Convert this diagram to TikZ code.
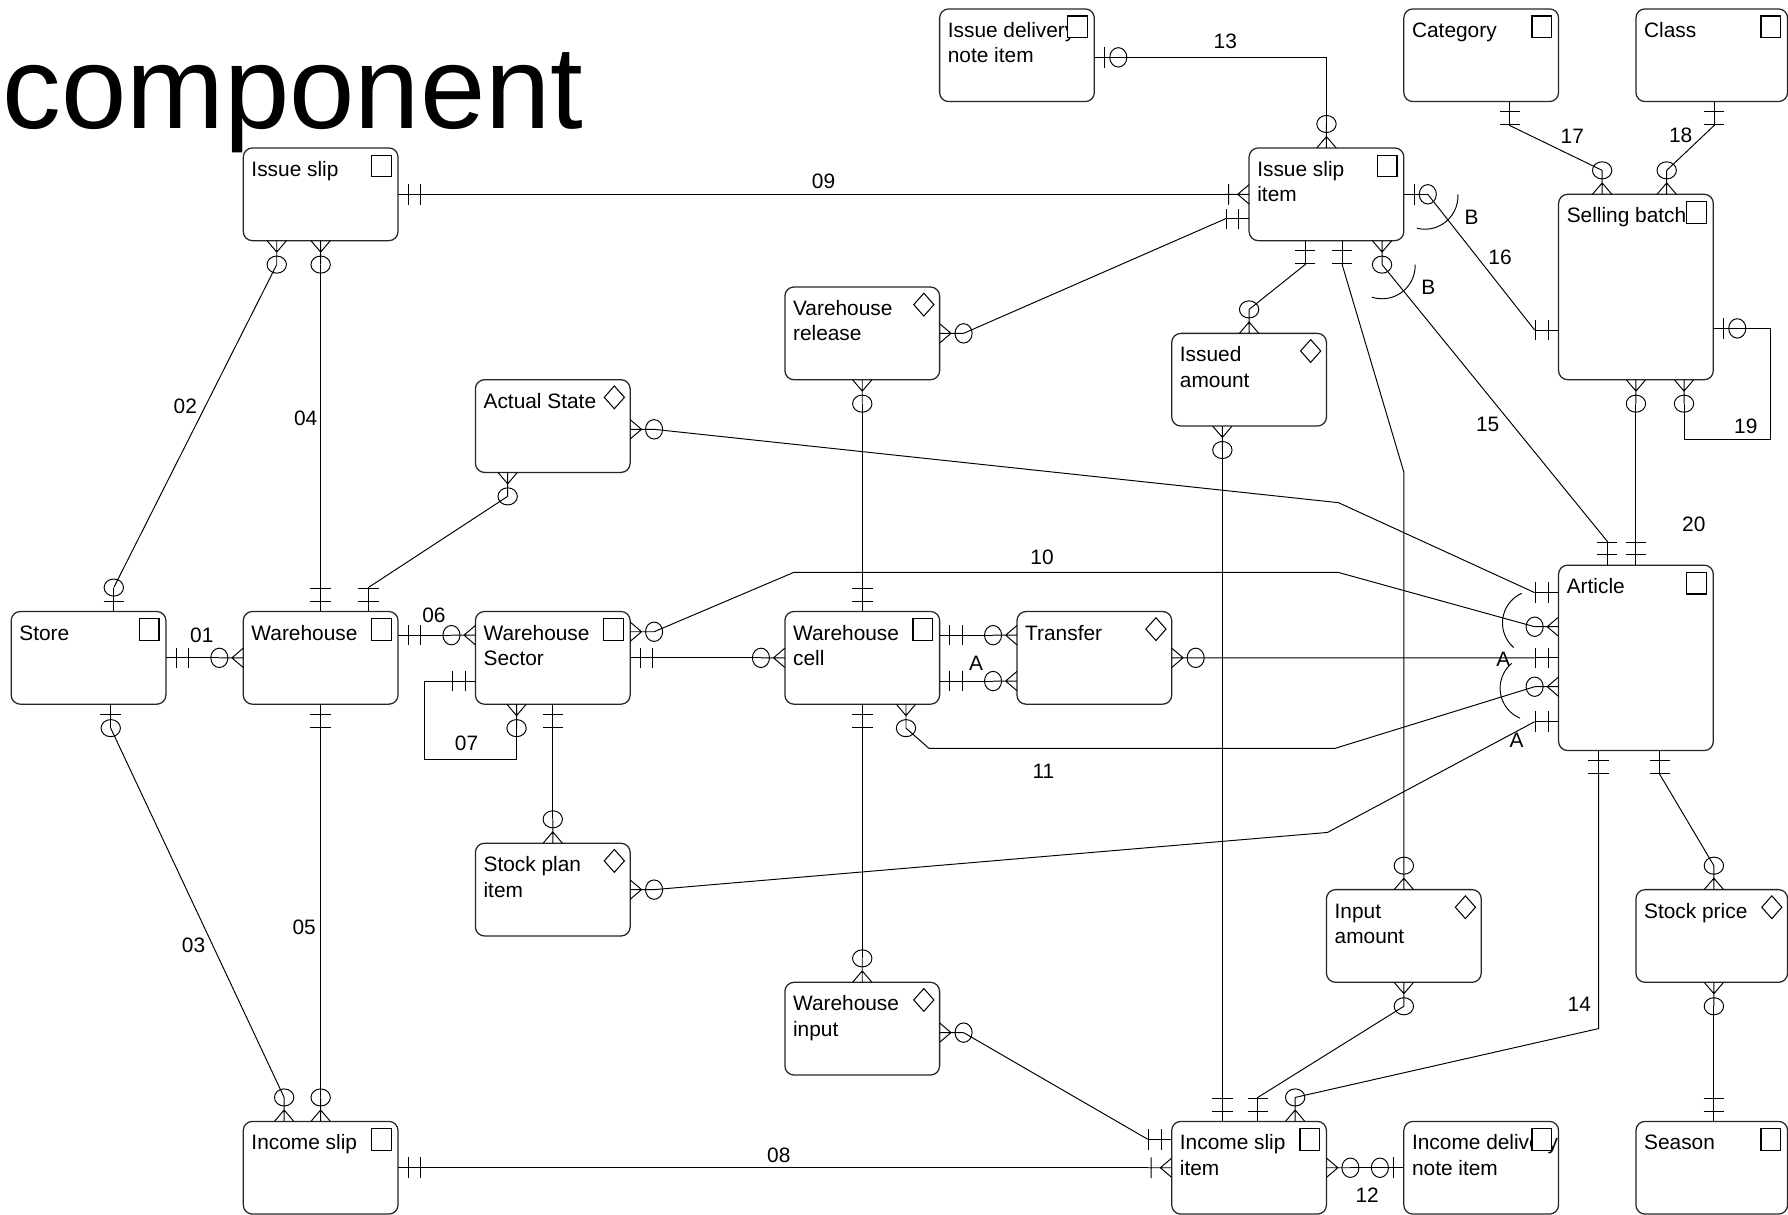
\documentclass[tikz,border=0pt]{standalone}
\usepackage{fontspec}
\setmainfont{Liberation Sans}
\usetikzlibrary{calc}

\tikzset{
  ebox/.style={draw=black!85, line width=1.1pt, rounded corners=8pt, minimum width=135.7pt,
    minimum height=81.3pt, inner sep=0pt, outer sep=0pt, anchor=north west},
  tallbox/.style={ebox, minimum height=162.6pt},
  edgebox/.style={ebox, minimum width=133pt},
  etxt/.style={anchor=base west, inner sep=0pt, font=\fontsize{18.3}{22}\selectfont},
  num/.style={inner sep=0pt, font=\fontsize{18.3}{22}\selectfont},
  conn/.style={line width=0.85pt},
  pics/sqicon/.style={code={\draw[line width=1.1pt, fill=white] (-23.3,6.3) rectangle (-6,25.3);}},
  pics/dmicon/.style={code={\draw[line width=0.9pt, fill=white]
    (-13.85,5.45) -- (-5,15.45) -- (-13.85,25.45) -- (-22.7,15.45) -- cycle;}},
  pics/erone/.style={code={\draw[conn] (0,0)--(21,0) (9,-9)--(9,9) (20,-9)--(20,9);}},
  pics/erzone/.style={code={\draw[conn] (0,0)--(21,0) (9,-9)--(9,9);
    \draw[conn] (21,0) ellipse[x radius=7.5, y radius=8.5];}},
  pics/erzmany/.style={code={\draw[conn] (0,0)--(21,0) (0,-8.5)--(10,0)--(0,8.5);
    \draw[conn] (21,0) ellipse[x radius=7.5, y radius=8.5];}},
  pics/eromany/.style={code={\draw[conn] (0,0)--(21,0) (0,-8.5)--(10,0)--(0,8.5) (18,-9)--(18,9);}},
}

% relationship end: #1 kind, #2 point on the box edge, #3 outward angle, #4 name of the free end
\newcommand{\erend}[4]{\begin{scope}[shift={(#2)}, rotate=#3]\pic[transform shape]{#1};\coordinate (#4) at (21,0);\end{scope}}
% entity captions
\newcommand{\capA}[2]{\node[etxt] (#1-a) at ($(#1.north west)+(7,25)$) {#2};}
\newcommand{\capB}[3]{\node[etxt] (#1-a) at ($(#1.north west)+(7,25)$) {#2};
  \node[etxt] (#1-b) at ($(#1.north west)+(7,47.3)$) {#3};}

\begin{document}
\begin{tikzpicture}[x=1pt, y=-1pt]
\useasboundingbox (0,0) rectangle (1568,1065.5);
\fill[white] (0,0) rectangle (1568,1065.5);

\node[anchor=base west, inner sep=0pt, font=\fontsize{103}{103}\selectfont] (title) at (2,112.5) {component};

% entities
\node[ebox] (idn) at (824.0,7.8) {};
\node[ebox] (category) at (1231.1,7.8) {};
\node[edgebox] (class) at (1434.65,7.8) {};
\node[ebox] (issueslip) at (213.35,129.75) {};
\node[ebox] (isi) at (1095.4,129.75) {};
\node[tallbox] (selling) at (1366.8,170.4) {};
\node[ebox] (vrelease) at (688.3,251.7) {};
\node[ebox] (issued) at (1027.55,292.35) {};
\node[ebox] (actual) at (416.9,333.0) {};
\node[tallbox] (article) at (1366.8,495.6) {};
\node[ebox] (store) at (9.8,536.25) {};
\node[ebox] (warehouse) at (213.35,536.25) {};
\node[ebox] (sector) at (416.9,536.25) {};
\node[ebox] (cell) at (688.3,536.25) {};
\node[ebox] (transfer) at (891.85,536.25) {};
\node[ebox] (stockplan) at (416.9,739.5) {};
\node[ebox] (inputamt) at (1163.25,780.15) {};
\node[edgebox] (stockprice) at (1434.65,780.15) {};
\node[ebox] (whinput) at (688.3,861.45) {};
\node[ebox] (incomeslip) at (213.35,983.4) {};
\node[ebox] (isli) at (1027.55,983.4) {};
\node[ebox] (indn) at (1231.1,983.4) {};
\node[edgebox] (season) at (1434.65,983.4) {};

% captions
\capB{idn}{Issue delivery}{note item}
\capA{category}{Category}
\capA{class}{Class}
\capA{issueslip}{Issue slip}
\capB{isi}{Issue slip}{item}
\capA{selling}{Selling batch}
\capB{vrelease}{Varehouse}{release}
\capB{issued}{Issued}{amount}
\capA{actual}{Actual State}
\capA{article}{Article}
\capA{store}{Store}
\capA{warehouse}{Warehouse}
\capB{sector}{Warehouse}{Sector}
\capB{cell}{Warehouse}{cell}
\capA{transfer}{Transfer}
\capB{stockplan}{Stock plan}{item}
\capB{inputamt}{Input}{amount}
\capA{stockprice}{Stock price}
\capB{whinput}{Warehouse}{input}
\capA{incomeslip}{Income slip}
\capB{isli}{Income slip}{item}
\capB{indn}{Income delivery}{note item}
\capA{season}{Season}

% kind markers
\foreach \b in {idn,category,class,issueslip,isi,selling,article,store,warehouse,sector,cell,incomeslip,isli,indn,season}
  {\pic at (\b.north east) {sqicon};}
\foreach \b in {vrelease,issued,actual,transfer,stockplan,inputamt,stockprice,whinput}
  {\pic at (\b.north east) {dmicon};}

% relationship ends
\erend{erone}{store.east}{0}{e1}
\erend{erzmany}{warehouse.west}{180}{e2}
\erend{erzmany}{$(issueslip.south west)+(29.35,0)$}{-90}{e3}
\erend{erzone}{$(store.north west)+(90,0)$}{90}{e4}
\erend{erzone}{$(store.south west)+(87.3,0)$}{-90}{e5}
\erend{erzmany}{$(incomeslip.north west)+(35.85,0)$}{90}{e6}
\erend{erzmany}{issueslip.south}{-90}{e7}
\erend{erone}{warehouse.north}{90}{e8}
\erend{erone}{warehouse.south}{-90}{e9}
\erend{erzmany}{incomeslip.north}{90}{e10}
\erend{erone}{$(warehouse.north east)+(0,20.75)$}{0}{e11}
\erend{erzmany}{$(sector.north west)+(0,20.75)$}{180}{e12}
\erend{erone}{$(sector.north west)+(0,61.05)$}{180}{e13}
\erend{erzmany}{$(sector.south west)+(36.1,0)$}{-90}{e14}
\erend{erone}{incomeslip.east}{0}{e15}
\erend{eromany}{isli.west}{180}{e16}
\erend{erone}{issueslip.east}{0}{e17}
\erend{eromany}{isi.west}{180}{e18}
\erend{erone}{$(isi.north west)+(0,62.25)$}{180}{e19}
\erend{erzmany}{vrelease.east}{0}{e20}
\erend{erzmany}{$(sector.north east)+(0,17.75)$}{0}{e21}
\erend{erzmany}{$(article.north west)+(0,54)$}{180}{e22}
\erend{erzmany}{$(cell.south west)+(106.2,0)$}{-90}{e23}
\erend{erzmany}{$(article.north west)+(0,106.6)$}{180}{e24}
\erend{erone}{sector.east}{0}{e25}
\erend{erzmany}{cell.west}{180}{e26}
\erend{erone}{$(cell.north east)+(0,20.75)$}{0}{e27}
\erend{erzmany}{$(transfer.north west)+(0,20.75)$}{180}{e28}
\erend{erone}{$(cell.north east)+(0,61)$}{0}{e29}
\erend{erzmany}{$(transfer.north west)+(0,61)$}{180}{e30}
\erend{erzmany}{transfer.east}{0}{e31}
\erend{erone}{article.west}{180}{e32}
\erend{erone}{$(article.north west)+(0,24.1)$}{180}{e33}
\erend{erzmany}{$(actual.north east)+(0,43.5)$}{0}{e34}
\erend{erone}{$(article.north west)+(0,137.3)$}{180}{e35}
\erend{erzmany}{stockplan.east}{0}{e36}
\erend{erzone}{isi.east}{0}{e37}
\erend{erone}{$(selling.north west)+(0,119)$}{180}{e38}
\erend{erzmany}{$(isi.south west)+(116.6,0)$}{-90}{e39}
\erend{erone}{$(article.north west)+(42.6,0)$}{90}{e40}
\erend{erone}{$(isi.south west)+(49.1,0)$}{-90}{e41}
\erend{erzmany}{issued.north}{90}{e42}
\erend{erone}{$(isi.south west)+(81.6,0)$}{-90}{e43}
\erend{erzmany}{inputamt.north}{90}{e44}
\erend{erzone}{$(idn.north east)+(0,42.5)$}{0}{e45}
\erend{erzmany}{isi.north}{90}{e46}
\erend{erone}{$(category.south west)+(92.9,0)$}{-90}{e47}
\erend{erzmany}{$(selling.north west)+(38.2,0)$}{90}{e48}
\erend{erone}{$(class.south west)+(68.5,0)$}{-90}{e49}
\erend{erzmany}{$(selling.north west)+(94.8,0)$}{90}{e50}
\erend{erzone}{$(selling.north east)+(0,117.6)$}{0}{e51}
\erend{erzmany}{$(selling.south west)+(110,0)$}{-90}{e52}
\erend{erzmany}{selling.south}{-90}{e53}
\erend{erone}{article.north}{90}{e54}
\erend{erone}{$(article.south west)+(35.2,0)$}{-90}{e55}
\erend{erzmany}{$(isli.north west)+(108.25,0)$}{90}{e56}
\erend{erone}{$(article.south west)+(88.8,0)$}{-90}{e57}
\erend{erzmany}{$(stockprice.north west)+(68.35,0)$}{90}{e58}
\erend{erzmany}{$(stockprice.south west)+(68.35,0)$}{-90}{e59}
\erend{erone}{$(season.north west)+(68.35,0)$}{90}{e60}
\erend{erzmany}{inputamt.south}{-90}{e61}
\erend{erone}{$(isli.north west)+(75.45,0)$}{90}{e62}
\erend{erzmany}{$(issued.south west)+(44.4,0)$}{-90}{e63}
\erend{erone}{$(isli.north west)+(44.4,0)$}{90}{e64}
\erend{erzmany}{$(whinput.north east)+(0,44.1)$}{0}{e65}
\erend{erone}{$(isli.north west)+(0,15.7)$}{180}{e66}
\erend{erzmany}{isli.east}{0}{e67}
\erend{erzone}{indn.west}{180}{e68}
\erend{erzmany}{vrelease.south}{-90}{e69}
\erend{erone}{cell.north}{90}{e70}
\erend{erone}{cell.south}{-90}{e71}
\erend{erzmany}{whinput.north}{90}{e72}
\erend{erone}{sector.south}{-90}{e73}
\erend{erzmany}{stockplan.north}{90}{e74}
\erend{erone}{$(warehouse.north west)+(109.65,0)$}{90}{e75}
\erend{erzmany}{$(actual.south west)+(28.3,0)$}{-90}{e76}

% connectors
\draw[conn] (e1) -- (e2);
\draw[conn] (e3) -- (e4);
\draw[conn] (e5) -- (e6);
\draw[conn] (e7) -- (e8);
\draw[conn] (e9) -- (e10);
\draw[conn] (e11) -- (e12);
\draw[conn] (e13) -| (372,665.6) -| (e14);
\draw[conn] (e15) -- (e16);
\draw[conn] (e17) -- (e18);
\draw[conn] (e19) -- (e20);
\draw[conn] (e21) -- (696,502) -- (1173.7,502) -- (e22);
\draw[conn] (e23) -- (814.7,656.3) -- (1170.7,656.3) -- (e24);
\draw[conn] (e25) -- (e26);
\draw[conn] (e27) -- (e28);
\draw[conn] (e29) -- (e30);
\draw[conn] (e31) -- (e32);
\draw[conn] (e34) -- (1173.7,440.8) -- (e33);
\draw[conn] (e36) -- (1164.2,730) -- (e35);
\draw[conn] (e37) -- (e38);
\draw[conn] (e39) -- (e40);
\draw[conn] (e41) -- (e42);
\draw[conn] (e43) -- (1231.1,414) -- (e44);
\draw[conn] (e45) -| (e46);
\draw[conn] (e47) -- (e48);
\draw[conn] (e49) -- (e50);
\draw[conn] (e51) -| (1553,385.3) -| (e52);
\draw[conn] (e53) -- (e54);
\draw[conn] (e55) -- (1402,902) -- (e56);
\draw[conn] (e57) -- (e58);
\draw[conn] (e59) -- (e60);
\draw[conn] (e61) -- (e62);
\draw[conn] (e63) -- (e64);
\draw[conn] (e65) -- (e66);
\draw[conn] (e67) -- (e68);
\draw[conn] (e69) -- (e70);
\draw[conn] (e71) -- (e72);
\draw[conn] (e73) -- (e74);
\draw[conn] (e75) -- (e76);

% exclusive-arc brackets
\draw[conn] (1334.5,520.3) arc[start angle=246, end angle=131, radius=28.5];
\draw[conn] (1325.7,581.7) arc[start angle=230, end angle=113, radius=28.5];
\draw[conn] (1278.5,170.5) arc[start angle=-3, end angle=104, radius=29];
\draw[conn] (1241,232) arc[start angle=-2, end angle=108, radius=29];

% relationship numbers
\node[num] (n01) at (177,557) {01};
\node[num] (n02) at (162.5,356.6) {02};
\node[num] (n03) at (169.7,829.3) {03};
\node[num] (n04) at (268,366.5) {04};
\node[num] (n05) at (266.8,813.5) {05};
\node[num] (n06) at (380.5,539.3) {06};
\node[num] (n07) at (409.1,651.9) {07};
\node[num] (n08) at (683,1013) {08};
\node[num] (n09) at (722.2,159.3) {09};
\node[num] (n10) at (913.8,488.8) {10};
\node[num] (n11) at (915,676.7) {11};
\node[num] (n12) at (1199,1048) {12};
\node[num] (n13) at (1074.5,36.5) {13};
\node[num] (n14) at (1385,880.5) {14};
\node[num] (n15) at (1304.6,371.8) {15};
\node[num] (n16) at (1315.5,225.7) {16};
\node[num] (n17) at (1378.8,119.3) {17};
\node[num] (n18) at (1473.9,118.4) {18};
\node[num] (n19) at (1531,374.2) {19};
\node[num] (n20) at (1485.4,459.5) {20};
\node[num] (a1) at (856,581.6) {A};
\node[num] (a2) at (1318.4,578.2) {A};
\node[num] (a3) at (1330,649) {A};
\node[num] (b1) at (1290.6,190.9) {B};
\node[num] (b2) at (1252.6,252) {B};
\end{tikzpicture}
\end{document}
